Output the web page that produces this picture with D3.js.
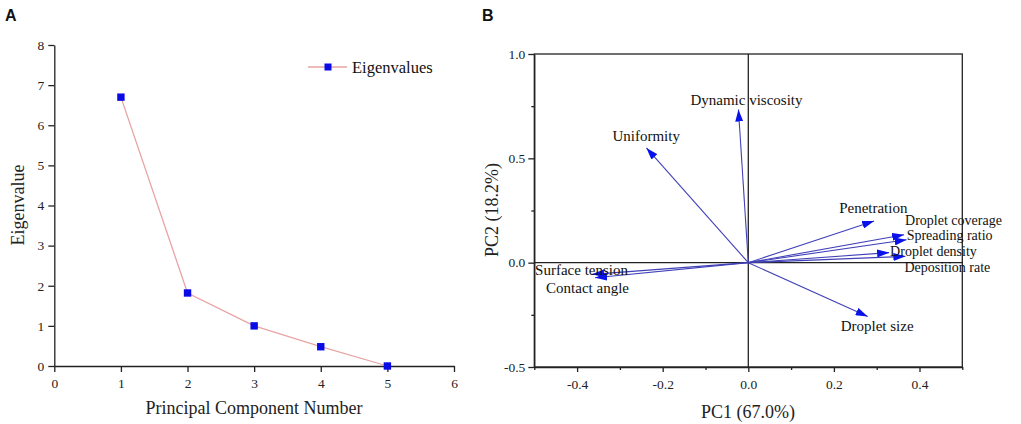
<!DOCTYPE html>
<html>
<head>
<meta charset="utf-8">
<script src="https://cdn.jsdelivr.net/npm/d3@7"></script>
<style>
  body { margin: 0; background: #fff; }
  #chart { width: 1021px; height: 424px; }
  .axis path, .axis line { stroke: #222; stroke-width: 1.3; }
  .axisLabel { font-family: "Liberation Serif", serif; font-size: 18px; fill: #222; text-anchor: middle; }
  .panelLetter { font-family: "Liberation Sans", sans-serif; font-weight: bold; font-size: 16px; fill: #111; }
  .loadLabel { font-family: "Liberation Serif", serif; font-size: 15px; fill: #111; }
</style>
</head>
<body>
<div id="chart"></div>
<script>
// scree plot data (panel A)
var components = [1, 2, 3, 4, 5];
var eigenvalues = [6.70, 1.82, 1.00, 0.48, 0.00];

// loading plot data (panel B)
var variables = ["Dynamic viscosity", "Uniformity", "Penetration", "Droplet coverage", "Spreading ratio",
                 "Droplet density", "Deposition rate", "Droplet size", "Surface tension", "Contact angle"];
var pc1 = [-0.023, -0.238, 0.294, 0.364, 0.370, 0.329, 0.367, 0.279, -0.365, -0.358];
var pc2 = [0.734, 0.550, 0.200, 0.134, 0.110, 0.048, 0.030, -0.258, -0.056, -0.072];

var xTicksA = [0, 1, 2, 3, 4, 5, 6];
var yTicksA = [0, 1, 2, 3, 4, 5, 6, 7, 8];
var xTicksB = [-0.4, -0.2, 0.0, 0.2, 0.4];
var xMinorB = [-0.5, -0.3, -0.1, 0.1, 0.3, 0.5];
var yTicksB = [-0.5, 0.0, 0.5, 1.0];
var yMinorB = [-0.25, 0.25, 0.75];

var width = 1021, height = 424;

var svg = d3.select("#chart")
    .append("svg")
    .attr("width", width)
    .attr("height", height);

svg.append("rect").attr("width", width).attr("height", height).attr("fill", "#fff");

var fmt = function(d) { return d3.format(".1f")(d).replace("\u2212", "-"); };

// serif tick labels like the original
function styleAxis(g) {
    g.attr("font-family", "Liberation Serif, serif")
        .attr("font-size", 13.5)
        .selectAll("text").attr("fill", "#222");
}

// ---------- panel A ----------
var xA = d3.scaleLinear().domain([0, 6]).range([54.3, 454]);
var yA = d3.scaleLinear().domain([0, 8]).range([366, 45]);

svg.append("g")
    .attr("class", "axis")
    .attr("transform", "translate(0,366)")
    .call(d3.axisBottom(xA).tickValues(xTicksA).tickSize(6).tickSizeOuter(0).tickPadding(6).tickFormat(d3.format("d")))
    .call(styleAxis);

svg.append("g")
    .attr("class", "axis")
    .attr("transform", "translate(54.3,0)")
    .call(d3.axisLeft(yA).tickValues(yTicksA).tickSize(6).tickSizeOuter(0).tickPadding(4).tickFormat(d3.format("d")))
    .call(styleAxis);

svg.append("text").attr("class", "axisLabel")
    .attr("x", 254).attr("y", 414)
    .text("Principal Component Number");

svg.append("text").attr("class", "axisLabel")
    .attr("transform", "rotate(-90)")
    .attr("x", -205).attr("y", 24)
    .text("Eigenvalue");

var screeData = components.map(function(c, i) { return {pc: c, ev: eigenvalues[i]}; });

svg.append("path")
    .datum(screeData)
    .attr("fill", "none")
    .attr("stroke", "#e8a4a4")
    .attr("stroke-width", 1.3)
    .attr("d", d3.line().x(function(d) { return xA(d.pc); }).y(function(d) { return yA(d.ev); }));

svg.selectAll("rect.pt")
    .data(screeData)
    .enter()
    .append("rect")
    .attr("class", "pt")
    .attr("x", function(d) { return xA(d.pc) - 3.7; })
    .attr("y", function(d) { return yA(d.ev) - 3.7; })
    .attr("width", 7.4)
    .attr("height", 7.4)
    .attr("fill", "#0a0ae6");

// legend
svg.append("line").attr("x1", 308).attr("x2", 347).attr("y1", 67).attr("y2", 67)
    .attr("stroke", "#e8a4a4").attr("stroke-width", 1.3);
svg.append("rect").attr("x", 324.5).attr("y", 63.5).attr("width", 7).attr("height", 7).attr("fill", "#0a0ae6");
svg.append("text").attr("class", "loadLabel").style("font-size", "16.5px")
    .attr("x", 352).attr("y", 73).text("Eigenvalues");

svg.append("text").attr("class", "panelLetter").attr("x", 5).attr("y", 21).text("A");

// ---------- panel B ----------
var xB = d3.scaleLinear().domain([-0.5, 0.5]).range([534.3, 962.3]);
var yB = d3.scaleLinear().domain([-0.5, 1.0]).range([367, 54]);

svg.append("g")
    .attr("class", "axis")
    .attr("transform", "translate(0,367)")
    .call(d3.axisBottom(xB).tickValues(xMinorB).tickSize(3).tickFormat(""))
    .select(".domain").remove();
svg.append("g")
    .attr("class", "axis")
    .attr("transform", "translate(0,367)")
    .call(d3.axisBottom(xB).tickValues(xTicksB).tickSize(5).tickSizeOuter(0).tickPadding(7).tickFormat(fmt))
    .call(styleAxis);

svg.append("g")
    .attr("class", "axis")
    .attr("transform", "translate(534.3,0)")
    .call(d3.axisLeft(yB).tickValues(yMinorB).tickSize(3).tickFormat(""))
    .select(".domain").remove();
svg.append("g")
    .attr("class", "axis")
    .attr("transform", "translate(534.3,0)")
    .call(d3.axisLeft(yB).tickValues(yTicksB).tickSize(6).tickSizeOuter(0).tickPadding(3).tickFormat(fmt))
    .call(styleAxis);

// frame and zero lines
svg.append("rect")
    .attr("x", xB(-0.5)).attr("y", yB(1.0))
    .attr("width", xB(0.5) - xB(-0.5)).attr("height", yB(-0.5) - yB(1.0))
    .attr("fill", "none").attr("stroke", "#222").attr("stroke-width", 1.3);
svg.append("line")
    .attr("x1", xB(0)).attr("x2", xB(0)).attr("y1", yB(1.0)).attr("y2", yB(-0.5))
    .attr("stroke", "#222").attr("stroke-width", 1.3);
svg.append("line")
    .attr("x1", xB(-0.5)).attr("x2", xB(0.5)).attr("y1", yB(0)).attr("y2", yB(0))
    .attr("stroke", "#222").attr("stroke-width", 1.3);

svg.append("text").attr("class", "axisLabel")
    .attr("x", 748).attr("y", 418)
    .text("PC1 (67.0%)");

svg.append("text").attr("class", "axisLabel")
    .attr("transform", "rotate(-90)")
    .attr("x", -210).attr("y", 498)
    .text("PC2 (18.2%)");

svg.append("text").attr("class", "panelLetter").attr("x", 482).attr("y", 21).text("B");

// arrow heads
svg.append("defs").append("marker")
    .attr("id", "head")
    .attr("markerUnits", "userSpaceOnUse")
    .attr("viewBox", "0 0 12 8")
    .attr("refX", 12).attr("refY", 4)
    .attr("markerWidth", 12).attr("markerHeight", 8)
    .attr("orient", "auto")
    .append("path")
    .attr("d", "M0,0L12,4L0,8Z")
    .attr("fill", "#0a12ea");

var loadings = variables.map(function(v, i) { return {name: v, x: pc1[i], y: pc2[i]}; });

svg.selectAll("line.arrow")
    .data(loadings)
    .enter()
    .append("line")
    .attr("class", "arrow")
    .attr("x1", xB(0)).attr("y1", yB(0))
    .attr("x2", function(d) { return xB(d.x); })
    .attr("y2", function(d) { return yB(d.y); })
    .attr("stroke", "#4040b8")
    .attr("stroke-width", 1.1)
    .attr("marker-end", "url(#head)");

// label offsets from arrow tip (px) and font size; the crowded right-hand stack is a bit smaller
var labelOffset = {
    "Dynamic viscosity": [-48, -5, 15],
    "Uniformity": [-34, -7, 15],
    "Penetration": [-35, -8, 15],
    "Droplet coverage": [1, -9.4, 14],
    "Spreading ratio": [0, 0.6, 14],
    "Droplet density": [1, 3.7, 14],
    "Deposition rate": [-1, 15.5, 14],
    "Droplet size": [-27, 14.6, 15],
    "Surface tension": [-57, 1, 15],
    "Contact angle": [-49, 15.4, 15]
};

svg.selectAll("text.load")
    .data(loadings)
    .enter()
    .append("text")
    .attr("class", "loadLabel")
    .attr("x", function(d) { return xB(d.x) + labelOffset[d.name][0]; })
    .attr("y", function(d) { return yB(d.y) + labelOffset[d.name][1]; })
    .style("font-size", function(d) { return labelOffset[d.name][2] + "px"; })
    .text(function(d) { return d.name; });
</script>
</body>
</html>
